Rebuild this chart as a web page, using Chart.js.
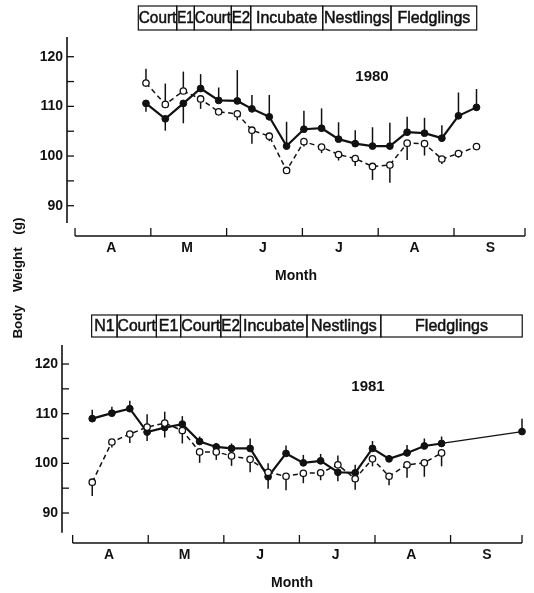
<!DOCTYPE html>
<html><head><meta charset="utf-8">
<script src="https://cdn.jsdelivr.net/npm/chart.js@4.4.0/dist/chart.umd.min.js"></script>
<style>
html,body{margin:0;padding:0;background:#fff;}
#wrap{position:relative;width:534px;height:593px;overflow:hidden;font-family:"Liberation Sans",Arial,sans-serif;color:#111;}
#c1{position:absolute;left:0;top:0;width:534px;height:300px;}
#c2{position:absolute;left:0;top:300px;width:534px;height:293px;}
.lbl{position:absolute;font-weight:bold;white-space:nowrap;}
#ylab{left:-57px;top:270px;width:150px;height:16px;line-height:16px;text-align:center;font-size:13.5px;word-spacing:9px;transform:rotate(-90deg);}
.yr{font-size:15px;transform:translate(-50%,-50%);}
</style></head>
<body><div id="wrap">
<canvas id="c1" width="534" height="300"></canvas>
<canvas id="c2" width="534" height="293"></canvas>
<div id="ylab" class="lbl">Body Weight (g)</div>
<div class="lbl yr" style="left:372px;top:75px">1980</div>
<div class="lbl yr" style="left:368px;top:385px">1981</div>
</div>
<script>
// ---- data (x in months since 1 April) ----
const monthLabels = ['A','M','J','J','A','S'];
const monthCenters = [0.48,1.48,2.48,3.48,4.48,5.48];
const yTicks = [90,95,100,105,110,115,120];

// 1980
const weeks80 = [0.936,1.191,1.429,1.657,1.895,2.141,2.334,2.563,2.791,3.020,3.253,3.477,3.697,3.925,4.154,4.382,4.611,4.840,5.059,5.297];
const filled80 = [110.6,107.5,110.6,113.6,111.2,111.1,109.5,107.9,102.0,105.4,105.6,103.4,102.5,102.0,102.0,104.8,104.6,103.6,108.1,109.8];
const open80 = [114.7,110.4,113.1,111.5,108.9,108.5,105.2,104.0,97.1,102.9,101.8,100.3,99.5,97.9,98.2,102.6,102.5,99.4,100.5,101.9];
const seFilled80 = [-1.7,-2.4,-4.0,2.9,2.6,6.2,2.8,4.4,4.9,3.7,4.0,3.4,2.7,3.8,4.7,3.1,3.1,2.6,4.7,3.7];
const seOpen80 = [2.9,4.2,3.9,-2.0,-0.5,-1.3,-2.7,-1.0,-0.5,-1.0,-1.2,-1.2,-1.5,-2.7,-3.6,-3.4,-2.4,-1.0,-0.8,-0.6];
const phases80 = ['Court','E1','Court','E2','Incubate','Nestlings','Fledglings'];
const phaseEdges80 = [0.835,1.342,1.574,2.062,2.318,3.268,4.169,5.300];

// 1981
const weeksFilled81 = [0.259,0.519,0.756,0.985,1.218,1.451,1.680,1.900,2.102,2.348,2.586,2.823,3.052,3.281,3.509,3.738,3.967,4.186,4.424,4.653,4.881,5.945];
const filled81 = [109.0,110.1,111.0,106.3,107.2,107.9,104.4,103.3,103.0,103.0,97.3,102.0,100.1,100.5,98.2,98.1,103.0,100.9,102.1,103.5,104.0,106.4];
const seFilled81 = [1.8,1.3,1.6,-1.8,-2.0,1.6,1.0,0.8,1.0,2.0,-2.4,1.6,1.6,1.4,-1.8,1.6,1.5,0.8,1.6,1.5,1.4,2.6];
const weeksOpen81 = [0.259,0.519,0.756,0.985,1.218,1.451,1.680,1.900,2.102,2.348,2.586,2.823,3.052,3.281,3.509,3.738,3.967,4.186,4.424,4.653,4.881];
const open81 = [96.2,104.3,105.9,107.3,108.1,106.6,102.3,102.3,101.5,100.8,98.2,97.4,98.0,98.1,99.7,96.9,100.9,97.4,99.7,100.1,102.1];
const seOpen81 = [-2.8,-1.1,-1.8,2.6,2.3,-2.6,-2.2,-1.6,-2.0,-2.6,1.8,-2.8,-2.0,-1.5,1.9,-2.2,-1.5,-1.8,-2.6,-2.8,-2.7];
const phases81 = ['N1','Court','E1','Court','E2','Incubate','Nestlings','Fledglings'];
const phaseEdges81 = [0.251,0.588,1.108,1.429,1.960,2.220,3.100,4.077,5.948];

const INK = '#111';
const FONT = '"Liberation Sans", Arial, sans-serif';

function pts(xs, ys){ return xs.map((x,i)=>({x:x, y:ys[i]})); }

const axesPlugin = {
  id:'axesAndBars',
  beforeDatasetsDraw(chart){
    const o = chart.options.plugins.axesAndBars;
    const ctx = chart.ctx, a = chart.chartArea;
    const xs = chart.scales.x, ys = chart.scales.y;
    ctx.save();
    ctx.strokeStyle = INK; ctx.lineCap='butt';
    // y axis
    ctx.lineWidth = 1.6;
    ctx.beginPath();
    ctx.moveTo(a.left, a.top);
    ctx.lineTo(a.left, ys.getPixelForValue(o.yAxisEnd));
    ctx.stroke();
    ctx.lineWidth = 1.3;
    yTicks.forEach(v=>{
      const p = ys.getPixelForValue(v);
      ctx.beginPath(); ctx.moveTo(a.left, p); ctx.lineTo(a.left+7, p); ctx.stroke();
    });
    // x axis
    ctx.lineWidth = 1.6;
    ctx.beginPath();
    ctx.moveTo(xs.getPixelForValue(0), a.bottom);
    ctx.lineTo(a.right, a.bottom);
    ctx.stroke();
    ctx.lineWidth = 1.3;
    [0,1,2,3,4,5,xs.max].forEach(v=>{
      const p = xs.getPixelForValue(v);
      ctx.beginPath(); ctx.moveTo(p, a.bottom); ctx.lineTo(p, a.bottom-8); ctx.stroke();
    });
    // phase boxes
    const e = o.edges, names = o.phases;
    const top = o.boxTop, h = o.boxH;
    ctx.lineWidth = 1.2;
    ctx.fillStyle = INK;
    ctx.font = '16px ' + FONT;
    ctx.textAlign='center'; ctx.textBaseline='middle';
    for(let i=0;i<names.length;i++){
      const x0 = xs.getPixelForValue(e[i]), x1 = xs.getPixelForValue(e[i+1]);
      ctx.strokeRect(x0, top, x1-x0, h);
      ctx.lineWidth = 0.5;
      ctx.fillText(names[i], (x0+x1)/2, top+h/2+1, x1-x0-1);
      ctx.strokeText(names[i], (x0+x1)/2, top+h/2+1, x1-x0-1);
      ctx.lineWidth = 1.2;
    }
    // error bars
    ctx.lineWidth = 1.5;
    chart.data.datasets.forEach(ds=>{
      if(!ds.errorBars) return;
      ds.data.forEach((d,i)=>{
        const px = xs.getPixelForValue(d.x);
        ctx.beginPath();
        ctx.moveTo(px, ys.getPixelForValue(d.y));
        ctx.lineTo(px, ys.getPixelForValue(d.y + ds.errorBars[i]));
        ctx.stroke();
      });
    });
    ctx.restore();
  }
};

function makeChart(id, cfg){
  return new Chart(document.getElementById(id), {
    type:'line',
    data:{datasets:[
      {label:'open', data:pts(cfg.openX, cfg.open), errorBars:cfg.seOpen, clip:false,
       borderColor:INK, borderWidth:1.5, borderDash:[5,3.5], pointRadius:3.2,
       pointBackgroundColor:'#fff', pointBorderColor:INK, pointBorderWidth:1.3, tension:0, fill:false},
      {label:'filled', data:pts(cfg.filledX, cfg.filled), errorBars:cfg.seFilled, clip:false,
       borderColor:INK, borderWidth:2.2, pointRadius:3.4,
       pointBackgroundColor:INK, pointBorderColor:INK, pointBorderWidth:1, tension:0, fill:false,
       segment:{borderWidth: c => (cfg.thinLast && c.p1DataIndex === cfg.filled.length-1) ? 1.3 : 2.2}}
    ]},
    options:{
      responsive:false, animation:false, devicePixelRatio:1,
      layout:{padding:{left:0, right:cfg.padRight, top:cfg.padTop, bottom:cfg.padBottom}},
      plugins:{legend:{display:false}, tooltip:{enabled:false},
        axesAndBars:{yAxisEnd:cfg.yAxisEnd, edges:cfg.edges, phases:cfg.phases, boxTop:cfg.boxTop, boxH:cfg.boxH}},
      scales:{
        x:{type:'linear', min:cfg.xMin, max:cfg.xMax,
           afterFit:s=>{s.height=50;},
           afterBuildTicks:s=>{s.ticks = monthCenters.map(v=>({value:v}));},
           ticks:{autoSkip:false, maxRotation:0, padding:4, color:INK,
                  font:{family:FONT, size:14, weight:'bold'},
                  callback:(v,i)=>monthLabels[i]},
           grid:{display:false, drawTicks:false, tickLength:0},
           border:{display:false},
           title:{display:true, text:'Month', color:INK, font:{family:FONT, size:14, weight:'bold'}, padding:{top:0,bottom:1.6}}},
        y:{type:'linear', min:cfg.yMin, max:cfg.yMax,
           afterFit:s=>{s.width=cfg.yWidth;},
           afterBuildTicks:s=>{s.ticks = yTicks.map(v=>({value:v}));},
           ticks:{padding:4, color:INK, font:{family:FONT, size:14, weight:'bold'},
                  callback:v=> (v%10===0 ? String(v) : '')},
           grid:{display:false, drawTicks:false, tickLength:0},
           border:{display:false}}
      }
    },
    plugins:[axesPlugin]
  });
}

makeChart('c1', {
  openX:weeks80, open:open80, seOpen:seOpen80,
  filledX:weeks80, filled:filled80, seFilled:seFilled80, thinLast:false,
  padRight:9, padTop:37, padBottom:14, yWidth:67,
  xMin:-0.106, xMax:5.937, yMin:83.9, yMax:123.97, yAxisEnd:86.5,
  edges:phaseEdges80, phases:phases80, boxTop:6, boxH:24
});
makeChart('c2', {
  openX:weeksOpen81, open:open81, seOpen:seOpen81,
  filledX:weeksFilled81, filled:filled81, seFilled:seFilled81, thinLast:true,
  padRight:12, padTop:45, padBottom:0, yWidth:62,
  xMin:-0.141, xMax:5.945, yMin:83.96, yMax:123.83, yAxisEnd:86.0,
  edges:phaseEdges81, phases:phases81, boxTop:15, boxH:22
});
</script>
</body></html>
